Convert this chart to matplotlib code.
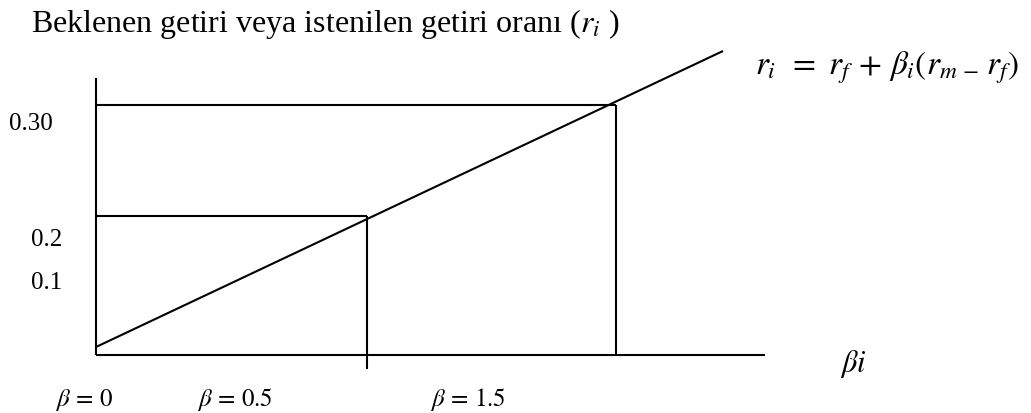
import matplotlib
matplotlib.use("Agg")
import matplotlib.pyplot as plt

# ---- data (schematic positions in figure pixels, as in the source diagram) ----
beta_labels = [r"$\beta\,=\,0$", r"$\beta\,=\,0.5$", r"$\beta\,=\,1.5$"]
beta_x = [96, 367, 616]            # x positions of beta = 0, 0.5, 1.5
beta_label_x = [84, 235, 468]
return_labels = ["0.30", "0.2", "0.1"]
return_label_y = [124, 240, 283]
return_label_x = [53, 62, 62]
box_top_y = [106, 217]             # levels of the return rectangles (beta 1.5, beta 0.5)
box_beta_x = [616, 367]
box_drop_y = [356, 370]            # bottom of the vertical drop lines
axis_origin = (96, 356)
axis_top_y = 79
axis_right_x = 765
sml_x = [96, 723]
sml_y = [348, 52]

title_text = "Beklenen getiri veya istenilen getiri oranı ($r_i$ )"
formula_text = r"$r_i\ \,=\ r_f\,+\,\beta_i(r_{m\,-}\,r_f)$"
xaxis_text = r"$\beta i$"

plt.rcParams["mathtext.fontset"] = "stix"
plt.rcParams["font.family"] = ["Liberation Serif", "DejaVu Serif"]

W, H = 1031, 414
fig = plt.figure(figsize=(W / 100, H / 100), dpi=100)
ax = fig.add_axes([0, 0, 1, 1])
ax.set_xlim(0, W)
ax.set_ylim(H, 0)
ax.axis("off")

lw = 1.5
ox, oy = axis_origin
# axes
ax.plot([ox, ox], [axis_top_y, oy], color="black", lw=lw, solid_capstyle="butt")
ax.plot([ox, axis_right_x], [oy, oy], color="black", lw=lw, solid_capstyle="butt")

# rectangles for the two beta levels
for yt, bx, yb in zip(box_top_y, box_beta_x, box_drop_y):
    ax.plot([ox, bx], [yt, yt], color="black", lw=lw, solid_capstyle="butt")
    ax.plot([bx, bx], [yt, yb], color="black", lw=lw, solid_capstyle="butt")

# security market line
ax.plot(sml_x, sml_y, color="black", lw=lw, solid_capstyle="butt")

# texts
ax.text(31, 32, title_text, fontsize=23, ha="left", va="baseline")
for lab, lx, ly in zip(return_labels, return_label_x, return_label_y):
    ax.text(lx, ly, lab, fontsize=18, ha="right", va="center")
for lab, lx in zip(beta_labels, beta_label_x):
    ax.text(lx, 400, lab, fontsize=18, ha="center", va="center")
ax.text(755, 75, formula_text, fontsize=24, ha="left", va="baseline")
ax.text(840, 372, xaxis_text, fontsize=22, ha="left", va="baseline")

fig.savefig("out.png", dpi=100)
